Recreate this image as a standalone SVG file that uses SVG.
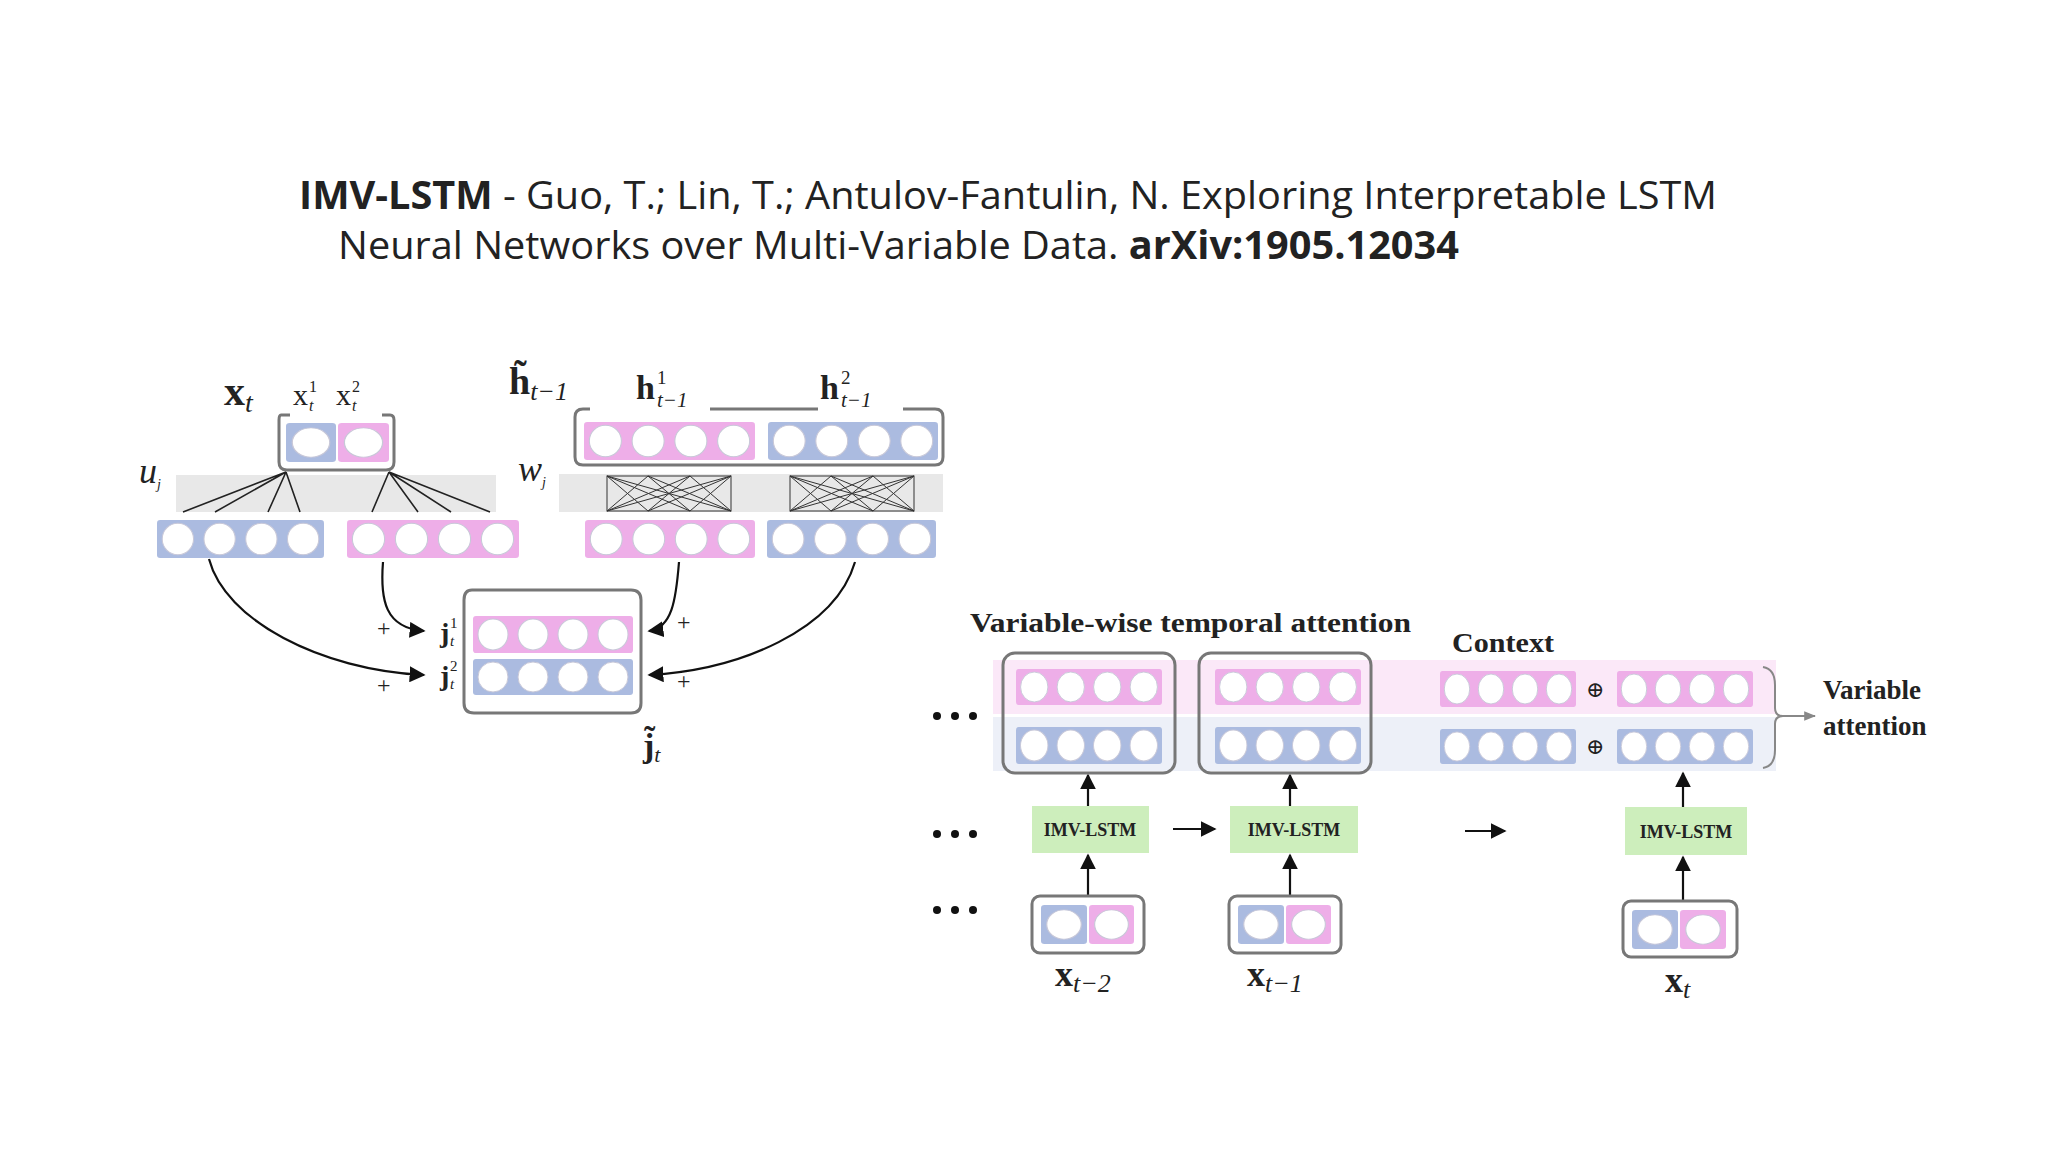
<svg xmlns="http://www.w3.org/2000/svg" width="2048" height="1152" viewBox="0 0 2048 1152">
<style>
.t{font-family:"Open Sans","Liberation Sans",sans-serif;font-size:39px;fill:#222}
.m{font-family:"Liberation Serif","DejaVu Serif",serif;fill:#222}
.bs{font-family:"Liberation Serif","DejaVu Serif",serif;font-weight:bold;fill:#222}
.pk{fill:#eeaee8}.bl{fill:#abbbe0}
.box{fill:none;stroke:#777;stroke-width:3}
.band{fill:#e8e8e8}
.gr{fill:#cdeebc}
.c{stroke:#111;stroke-width:2.2;fill:none}
.thin{stroke:#222;stroke-width:1.6;fill:none}
.x{stroke:#333;stroke-width:1;fill:none}
</style>
<defs>
<symbol id="v4" viewBox="0 0 160 36" preserveAspectRatio="none">
<rect x="0" y="0" width="160" height="36" rx="3"/>
<circle cx="20" cy="18" r="15" fill="#fff" stroke="#c8c8d8"/>
<circle cx="60" cy="18" r="15" fill="#fff" stroke="#c8c8d8"/>
<circle cx="100" cy="18" r="15" fill="#fff" stroke="#c8c8d8"/>
<circle cx="140" cy="18" r="15" fill="#fff" stroke="#c8c8d8"/>
</symbol>
<symbol id="c1" viewBox="0 0 40 40" preserveAspectRatio="none">
<rect x="0" y="0" width="40" height="40" rx="3"/>
<circle cx="20" cy="20" r="15" fill="#fff" stroke="#c8c8d8"/>
</symbol>
<marker id="ahb" viewBox="0 0 10 10" refX="9" refY="5" markerWidth="16" markerHeight="16" markerUnits="userSpaceOnUse" orient="auto"><path d="M0,0 L10,5 L0,10 z" fill="#111"/></marker>
<marker id="ahp" viewBox="0 0 10 10" refX="9" refY="5" markerWidth="12" markerHeight="12" markerUnits="userSpaceOnUse" orient="auto"><path d="M0,1 L10,5 L0,9 z" fill="#f0b8ea"/></marker>
<marker id="ahl" viewBox="0 0 10 10" refX="9" refY="5" markerWidth="12" markerHeight="12" markerUnits="userSpaceOnUse" orient="auto"><path d="M0,1 L10,5 L0,9 z" fill="#c8cde0"/></marker>
<marker id="ahg" viewBox="0 0 10 10" refX="9" refY="5" markerWidth="12" markerHeight="12" markerUnits="userSpaceOnUse" orient="auto"><path d="M0,1 L10,5 L0,9 z" fill="#888"/></marker>
<clipPath id="clipR"><rect x="0" y="0" width="1936" height="1152"/></clipPath>
</defs>
<rect width="2048" height="1152" fill="#fff"/>

<g id="title">
<text class="t" x="299" y="209" textLength="1418" lengthAdjust="spacingAndGlyphs"><tspan font-weight="bold">IMV-LSTM</tspan> - Guo, T.; Lin, T.; Antulov-Fantulin, N. Exploring Interpretable LSTM</text>
<text class="t" x="338" y="259" textLength="1121" lengthAdjust="spacingAndGlyphs">Neural Networks over Multi-Variable Data. <tspan font-weight="bold">arXiv:1905.12034</tspan></text>
</g>

<g id="bands">
<rect class="band" x="176" y="475" width="320" height="37"/>
<rect class="band" x="559" y="474" width="384" height="38"/>
</g>

<g id="xt-input">
<use href="#c1" class="bl" x="286" y="423" width="50" height="39"/>
<use href="#c1" class="pk" x="338" y="423" width="51" height="39"/>
<path class="box" d="M290,415 L281,415 Q279,415 279,420 L279,462 Q279,470 287,470 L386,470 Q394,470 394,462 L394,420 Q394,415 390,415 L382,415"/>
<text class="bs" x="224" y="405" font-size="42">x<tspan font-style="italic" font-weight="normal" font-size="28" dy="7">t</tspan></text>
<text class="m" x="293" y="405" font-size="30">x</text>
<text class="m" x="309" y="392" font-size="16">1</text>
<text class="m" x="309" y="411" font-size="16" font-style="italic">t</text>
<text class="m" x="336" y="405" font-size="30">x</text>
<text class="m" x="352" y="392" font-size="16">2</text>
<text class="m" x="352" y="411" font-size="16" font-style="italic">t</text>
</g>

<g id="u-proj">
<text class="m" x="139" y="483" font-size="36" font-style="italic">u<tspan font-size="14" dy="6">j</tspan></text>
<path class="thin" d="M286,472 L183,512 M286,472 L215,512 M286,472 L268,512 M286,472 L300,512 M389,472 L372,512 M389,472 L418,512 M389,472 L451,512 M389,472 L490,512"/>
<use href="#v4" class="bl" x="157" y="520" width="167" height="38"/>
<use href="#v4" class="pk" x="347" y="520" width="172" height="38"/>
</g>

<g id="h-prev">
<path class="box" d="M590,409 L583,409 Q575,409 575,417 L575,457 Q575,465 583,465 L935,465 Q943,465 943,457 L943,417 Q943,409 935,409 L903,409 M710,409 L818,409"/>
<use href="#v4" class="pk" x="584" y="422" width="171" height="38"/>
<use href="#v4" class="bl" x="768" y="422" width="170" height="38"/>
<text class="bs" x="509" y="394" font-size="38">h̃<tspan font-style="italic" font-weight="normal" font-size="26" dy="6">t−1</tspan></text>
<text class="bs" x="636" y="399" font-size="34">h</text>
<text class="m" x="657" y="384" font-size="19">1</text>
<text class="m" x="657" y="407" font-size="21" font-style="italic">t−1</text>
<text class="bs" x="820" y="399" font-size="34">h</text>
<text class="m" x="841" y="384" font-size="19">2</text>
<text class="m" x="841" y="407" font-size="21" font-style="italic">t−1</text>
</g>

<g id="w-proj">
<text class="m" x="518" y="481" font-size="36" font-style="italic">w<tspan font-size="14" dy="6">j</tspan></text>
<rect class="x" x="607" y="476" width="124" height="35"/>
<path class="x" d="M607,476 L648,511 M607,476 L690,511 M607,476 L731,511 M648,476 L607,511 M648,476 L690,511 M648,476 L731,511 M690,476 L607,511 M690,476 L648,511 M690,476 L731,511 M731,476 L607,511 M731,476 L648,511 M731,476 L690,511"/>
<rect class="x" x="790" y="476" width="124" height="35"/>
<path class="x" d="M790,476 L831,511 M790,476 L873,511 M790,476 L914,511 M831,476 L790,511 M831,476 L873,511 M831,476 L914,511 M873,476 L790,511 M873,476 L831,511 M873,476 L914,511 M914,476 L790,511 M914,476 L831,511 M914,476 L873,511"/>
<use href="#v4" class="pk" x="585" y="520" width="170" height="38"/>
<use href="#v4" class="bl" x="767" y="520" width="169" height="38"/>
</g>

<g id="j-state">
<path class="box" d="M472,590 Q464,590 464,600 L464,703 Q464,713 474,713 L631,713 Q641,713 641,703 L641,600 Q641,590 631,590 Z"/>
<use href="#v4" class="pk" x="473" y="616" width="160" height="37"/>
<use href="#v4" class="bl" x="473" y="659" width="160" height="36"/>
<text class="bs" x="440" y="642" font-size="28">j</text>
<text class="m" x="450" y="628" font-size="15">1</text>
<text class="m" x="450" y="646" font-size="15" font-style="italic">t</text>
<text class="bs" x="440" y="685" font-size="28">j</text>
<text class="m" x="450" y="671" font-size="15">2</text>
<text class="m" x="450" y="689" font-size="15" font-style="italic">t</text>
<text class="bs" x="643" y="757" font-size="34">j̃<tspan font-style="italic" font-weight="normal" font-size="22" dy="5">t</tspan></text>
</g>

<g id="connectors">
<path class="c" marker-end="url(#ahb)" d="M209,559 C225,620 320,670 424,675"/>
<path class="c" marker-end="url(#ahb)" d="M383,562 C380,600 385,628 424,631"/>
<path class="c" marker-end="url(#ahb)" d="M679,562 C676,600 672,628 649,631"/>
<path class="c" marker-end="url(#ahb)" d="M855,562 C835,630 740,670 649,675"/>
<path class="c" marker-end="url(#ahb)" d="M1088,806 L1088,775"/>
<path class="c" marker-end="url(#ahb)" d="M1290,806 L1290,775"/>
<path class="c" marker-end="url(#ahb)" d="M1683,807 L1683,773"/>
<path class="c" marker-end="url(#ahb)" d="M1088,896 L1088,855"/>
<path class="c" marker-end="url(#ahb)" d="M1290,896 L1290,855"/>
<path class="c" marker-end="url(#ahb)" d="M1683,901 L1683,857"/>
<path class="c" marker-end="url(#ahb)" d="M1173,829 L1215,829"/>
<path class="c" marker-end="url(#ahb)" d="M1465,831 L1505,831"/>
<path stroke="#f0b8ea" stroke-width="3" marker-end="url(#ahp)" d="M1391,687 L1430,687"/>
<path stroke="#c8cde0" stroke-width="3" marker-end="url(#ahl)" d="M1391,746 L1430,746"/>
<path stroke="#888" stroke-width="2" marker-end="url(#ahg)" d="M1783,716 L1815,716"/>
</g>
<g id="plus" class="m" font-size="24">
<text x="377" y="636">+</text>
<text x="377" y="693">+</text>
<text x="677" y="630">+</text>
<text x="677" y="689">+</text>
</g>

<g id="attn-bands">
<rect x="993" y="660" width="783" height="54" fill="#fbe8f8"/>
<rect x="993" y="717" width="783" height="54" fill="#edf0f8"/>
</g>
<text class="bs" x="970" y="632" font-size="28" textLength="441" lengthAdjust="spacingAndGlyphs">Variable-wise temporal attention</text>
<text class="bs" x="1452" y="652" font-size="28" textLength="102" lengthAdjust="spacingAndGlyphs">Context</text>
<g id="dots" fill="#111">
<circle cx="937" cy="716" r="4"/><circle cx="955" cy="716" r="4"/><circle cx="973" cy="716" r="4"/>
<circle cx="937" cy="834" r="4"/><circle cx="955" cy="834" r="4"/><circle cx="973" cy="834" r="4"/>
<circle cx="937" cy="910" r="4"/><circle cx="955" cy="910" r="4"/><circle cx="973" cy="910" r="4"/>
</g>
<g id="attn1">
<use href="#v4" class="pk" x="1016" y="669" width="146" height="36"/>
<use href="#v4" class="bl" x="1016" y="727" width="146" height="37"/>
<rect class="box" x="1003" y="653" width="172" height="120" rx="12"/>
</g>
<g id="attn2">
<use href="#v4" class="pk" x="1215" y="669" width="146" height="36"/>
<use href="#v4" class="bl" x="1215" y="727" width="146" height="37"/>
<rect class="box" x="1199" y="653" width="172" height="120" rx="12"/>
</g>
<g id="context">
<use href="#v4" class="pk" x="1440" y="671" width="136" height="36"/>
<use href="#v4" class="pk" x="1617" y="671" width="136" height="36"/>
<use href="#v4" class="bl" x="1440" y="729" width="136" height="35"/>
<use href="#v4" class="bl" x="1617" y="729" width="136" height="35"/>
<text class="m" x="1586" y="697" font-size="22">⊕</text>
<text class="m" x="1586" y="754" font-size="22">⊕</text>
<path d="M1763,667 Q1775,669 1775,685 L1775,708 Q1775,716 1783,716 Q1775,716 1775,724 L1775,750 Q1775,766 1763,768" fill="none" stroke="#888" stroke-width="2"/>
</g>
<g id="var-attn" clip-path="url(#clipR)">
<text class="bs" x="1823" y="699" font-size="27">Variable</text>
<text class="bs" x="1823" y="735" font-size="27">attention</text>
</g>
<g id="lstm1"><rect class="gr" x="1032" y="806" width="117" height="47"/><text class="bs" x="1090" y="836" font-size="18" text-anchor="middle">IMV-LSTM</text></g>
<g id="lstm2"><rect class="gr" x="1230" y="806" width="128" height="47"/><text class="bs" x="1294" y="836" font-size="18" text-anchor="middle">IMV-LSTM</text></g>
<g id="lstm3"><rect class="gr" x="1625" y="807" width="122" height="48"/><text class="bs" x="1686" y="838" font-size="18" text-anchor="middle">IMV-LSTM</text></g>
<g id="in1">
<use href="#c1" class="bl" x="1041" y="905" width="46" height="39"/>
<use href="#c1" class="pk" x="1089" y="905" width="45" height="39"/>
<rect class="box" x="1032" y="896" width="112" height="57" rx="8"/>
<text class="bs" x="1055" y="986" font-size="36">x<tspan font-style="italic" font-weight="normal" font-size="26" dy="6">t−2</tspan></text>
</g>
<g id="in2">
<use href="#c1" class="bl" x="1238" y="905" width="46" height="39"/>
<use href="#c1" class="pk" x="1286" y="905" width="45" height="39"/>
<rect class="box" x="1229" y="896" width="112" height="57" rx="8"/>
<text class="bs" x="1247" y="986" font-size="36">x<tspan font-style="italic" font-weight="normal" font-size="26" dy="6">t−1</tspan></text>
</g>
<g id="in3">
<use href="#c1" class="bl" x="1632" y="910" width="46" height="39"/>
<use href="#c1" class="pk" x="1680" y="910" width="46" height="39"/>
<rect class="box" x="1623" y="901" width="114" height="56" rx="8"/>
<text class="bs" x="1665" y="992" font-size="36">x<tspan font-style="italic" font-weight="normal" font-size="26" dy="6">t</tspan></text>
</g>
</svg>
